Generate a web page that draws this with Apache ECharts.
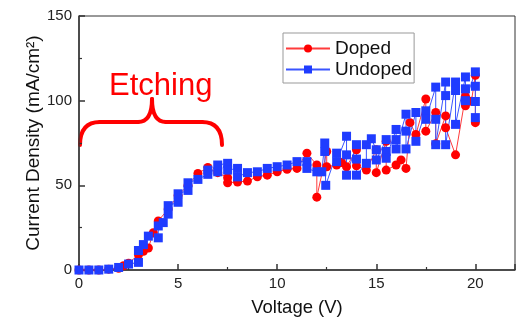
<!DOCTYPE html>
<html>
<head>
<meta charset="utf-8">
<script src="https://cdn.jsdelivr.net/npm/echarts@6/dist/echarts.min.js"></script>
<style>
  html, body { margin: 0; padding: 0; background: #fff; }
  #chart { width: 518px; height: 322px; }
</style>
</head>
<body>
<div id="chart"></div>
<script>
// 数据：电压 (V) 与电流密度 (mA/cm2)
const dopedV = [0, 0.5, 1, 1.5, 2, 2.25, 2.5, 3, 3.25, 3.5, 3.75, 4, 4.5, 5, 5.5, 6, 6.5, 7, 7.5, 7.5,
  8, 8.5, 9, 9.5, 10, 10.5, 11, 11.5, 12, 12, 12.5, 12.5, 13, 13.25, 13.5, 14, 14, 14.5, 15, 15,
  15.5, 15.5, 16, 16.25, 16.5, 16.7, 17, 17.5, 17.5, 18, 18, 18.5, 18.5, 19, 19.5, 19.5, 19.8, 20, 20]
const dopedJ = [0, 0, 0, 0.5, 1, 2.5, 4, 9, 11, 13, 22, 29, 36, 44, 50, 57, 60.5, 57.5, 54.5, 51.5,
  52, 52.5, 55, 56, 58, 59.5, 60, 69, 62, 43, 70, 61, 62, 63.5, 61, 71, 61.5, 59, 71, 57.5,
  76, 59, 62, 65, 60, 87, 80, 101, 82, 93, 74.5, 91, 84, 68, 102.5, 97, 99.6, 115, 87]

const undopedV = [0, 0.5, 1, 1.5, 2, 2.5, 3, 3, 3.25, 3.5, 4, 4, 4.25, 4.5, 4.5, 5, 5, 5.5, 5.5, 6,
  6.5, 6.5, 7, 7, 7.5, 7.5, 8, 8, 8.5, 9, 9.5, 10, 10.5, 11, 11.5, 11.5, 12, 12.25, 12.4, 12.4,
  12.45, 13, 13, 13.5, 13.5, 13.5, 14, 14, 14, 14.5, 14.5, 14.75, 15, 15, 15.5, 15.5, 15.5,
  16, 16, 16, 16.5, 16.5, 16.5, 17, 17, 17.5, 17.5, 18, 18, 18, 18.5, 18.5, 18.5,
  19, 19, 19, 19.5, 19.5, 19.5, 20, 20, 20, 20]
const undopedJ = [0, 0, 0, 0.5, 1.5, 3.5, 4.5, 11.5, 15, 20, 19, 26, 28, 33, 38, 40, 45, 47, 51.5, 53.5,
  56.5, 59, 58, 62, 63, 59, 60, 55, 57.5, 58, 60, 61, 62, 64, 64, 60, 58, 58, 75, 70,
  50, 69, 64, 79, 68, 56, 74, 65.5, 56, 63, 74, 77.5, 71, 65, 77, 70, 66,
  83, 77, 71.5, 92, 82, 71.5, 93, 76, 94, 89, 108, 89, 74, 111, 103, 74,
  111, 106, 86, 114, 107, 100, 117, 108.5, 99.5, 90]

const xTicks = [0, 5, 10, 15, 20]
const yTicks = [0, 50, 100, 150]

const pairs = (xs, ys) => xs.map((x, i) => [x, ys[i]])

const chart = echarts.init(document.getElementById('chart'))

const axisText = { color: '#222', fontSize: 15, fontFamily: 'Liberation Sans' }

// 大括号样式
const brace = { fill: 'none', stroke: '#ff0000', lineWidth: 4, lineCap: 'round' }

const option = {
  backgroundColor: '#fff',
  animation: false,
  grid: { left: 79, right: 2, top: 16, bottom: 51, show: true, borderColor: '#333', borderWidth: 1 },
  legend: {
    orient: 'vertical',
    left: 283,
    top: 33,
    padding: [6, 2, 4, 2],
    itemGap: 2,
    itemWidth: 44,
    itemHeight: 10,
    backgroundColor: '#fff',
    borderColor: '#999',
    borderWidth: 1,
    textStyle: { fontSize: 19, color: '#111', fontFamily: 'Liberation Sans', padding: [0, 0, 0, 0] },
    data: ['Doped', 'Undoped']
  },
  xAxis: {
    type: 'value',
    min: 0,
    max: 22,
    interval: 5,
    name: 'Voltage (V)',
    nameLocation: 'middle',
    nameGap: 28,
    nameTextStyle: { fontSize: 18.5, color: '#111', fontFamily: 'Liberation Sans' },
    axisLine: { show: true, lineStyle: { color: '#333', width: 1.5 } },
    axisTick: { inside: true, length: 6, lineStyle: { color: '#333', width: 1.5 } },
    minorTick: { show: true, splitNumber: 2, length: 3, lineStyle: { color: '#333', width: 1.2 } },
    splitLine: { show: false },
    axisLabel: Object.assign({ margin: 6, formatter: v => xTicks.includes(v) ? String(v) : '' }, axisText)
  },
  yAxis: {
    type: 'value',
    min: 0,
    max: 150,
    interval: 50,
    name: 'Current Density (mA/cm²)',
    nameLocation: 'middle',
    nameGap: 36,
    nameMoveOverlap: false,
    nameTextStyle: { fontSize: 19, color: '#111', fontFamily: 'Liberation Sans' },
    axisLine: { show: true, lineStyle: { color: '#333', width: 1.5 } },
    axisTick: { inside: true, length: 6, lineStyle: { color: '#333', width: 1.5 } },
    minorTick: { show: true, splitNumber: 2, length: 3, lineStyle: { color: '#333', width: 1.2 } },
    splitLine: { show: false },
    axisLabel: Object.assign({ margin: 7, formatter: v => yTicks.includes(v) ? String(v) : '' }, axisText)
  },
  series: [
    {
      name: 'Doped',
      type: 'line',
      data: pairs(dopedV, dopedJ),
      symbol: 'circle',
      symbolSize: 9,
      itemStyle: { color: '#ff0000' },
      lineStyle: { color: '#ff3b3b', width: 1 }
    },
    {
      name: 'Undoped',
      type: 'line',
      data: pairs(undopedV, undopedJ),
      symbol: 'rect',
      symbolSize: 9,
      itemStyle: { color: '#1f3cff' },
      lineStyle: { color: '#3a55ff', width: 1 }
    }
  ],
  // 标注：Etching 与大括号
  graphic: [
    {
      type: 'text',
      x: 109,
      y: 71,
      style: { text: 'Etching', fill: '#ff0000', fontSize: 31, fontFamily: 'Liberation Sans' }
    },
    { type: 'bezierCurve', shape: { x1: 80, y1: 145, cpx1: 80, cpy1: 122, x2: 100, y2: 122 }, style: brace },
    { type: 'line', shape: { x1: 100, y1: 122, x2: 138, y2: 122 }, style: brace },
    { type: 'bezierCurve', shape: { x1: 138, y1: 122, cpx1: 152, cpy1: 122, x2: 152, y2: 99 }, style: brace },
    { type: 'bezierCurve', shape: { x1: 152, y1: 99, cpx1: 152, cpy1: 122, x2: 166, y2: 122 }, style: brace },
    { type: 'line', shape: { x1: 166, y1: 122, x2: 202, y2: 122 }, style: brace },
    { type: 'bezierCurve', shape: { x1: 202, y1: 122, cpx1: 222, cpy1: 122, x2: 222, y2: 145 }, style: brace }
  ]
}

chart.setOption(option)
</script>
</body>
</html>
